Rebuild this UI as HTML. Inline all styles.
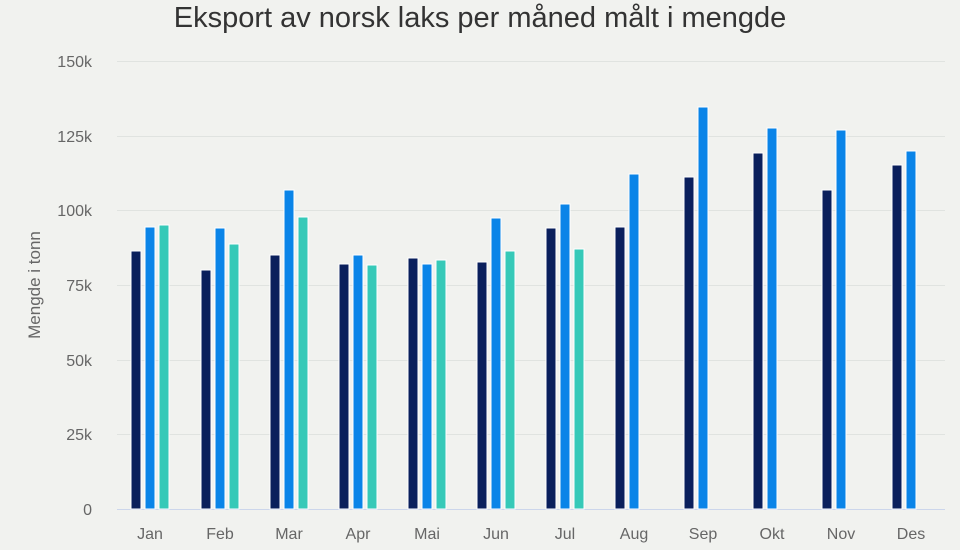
<!DOCTYPE html>
<html><head><meta charset="utf-8"><style>
html,body{margin:0;padding:0;background:#f1f2ef;}
svg{display:block;font-family:"Liberation Sans",sans-serif;}
</style></head><body>
<svg width="960" height="550" viewBox="0 0 960 550" xmlns="http://www.w3.org/2000/svg">
<rect width="960" height="550" fill="#f1f2ef"/>
<text x="480" y="27" text-anchor="middle" font-size="29" fill="#333">Eksport av norsk laks per måned målt i mengde</text>
<g stroke="#e0e3e0" stroke-width="1">
<line x1="117" x2="945" y1="61.5" y2="61.5"/>
<line x1="117" x2="945" y1="136.5" y2="136.5"/>
<line x1="117" x2="945" y1="210.5" y2="210.5"/>
<line x1="117" x2="945" y1="285.5" y2="285.5"/>
<line x1="117" x2="945" y1="360.5" y2="360.5"/>
<line x1="117" x2="945" y1="434.5" y2="434.5"/>
</g>
<line x1="117" x2="945" y1="509.5" y2="509.5" stroke="#ccd6eb"/>
<g font-size="16" fill="#666" text-anchor="end">
<text x="92" y="67">150k</text>
<text x="92" y="142">125k</text>
<text x="92" y="216">100k</text>
<text x="92" y="291">75k</text>
<text x="92" y="366">50k</text>
<text x="92" y="440">25k</text>
<text x="92" y="515">0</text>
</g>
<text transform="translate(40,285) rotate(-90)" text-anchor="middle" font-size="17" fill="#666">Mengde i tonn</text>
<g id="bars" stroke="#fff" stroke-width="1"></g>
<g id="labels" font-size="16" fill="#666" text-anchor="middle"></g>
</svg>
<script>
var m=["Jan","Feb","Mar","Apr","Mai","Jun","Jul","Aug","Sep","Okt","Nov","Des"];
var c=[150,220,289,358,427,496,565,634,703,772,841,911];
var d=[[251,227,225],[270,228,244],[255,190,217],[264,255,265],[258,264,260],[262,218,251],[228,204,249],[227,174],[177,107],[153,128],[190,130],[165,151]];
var col=["#0a1f5c","#0a84e8","#36c9b8"],off=[-19,-5,9];
var b=document.getElementById("bars"),l=document.getElementById("labels"),ns="http://www.w3.org/2000/svg";
for(var i=0;i<12;i++){
 for(var j=0;j<d[i].length;j++){
  var r=document.createElementNS(ns,"rect");
  r.setAttribute("x",c[i]+off[j]);r.setAttribute("y",d[i][j]);
  r.setAttribute("width",10);r.setAttribute("height",509-d[i][j]);
  r.setAttribute("fill",col[j]);b.appendChild(r);
 }
 var t=document.createElementNS(ns,"text");
 t.setAttribute("x",c[i]);t.setAttribute("y",539);t.textContent=m[i];l.appendChild(t);
}
</script>
</body></html>
